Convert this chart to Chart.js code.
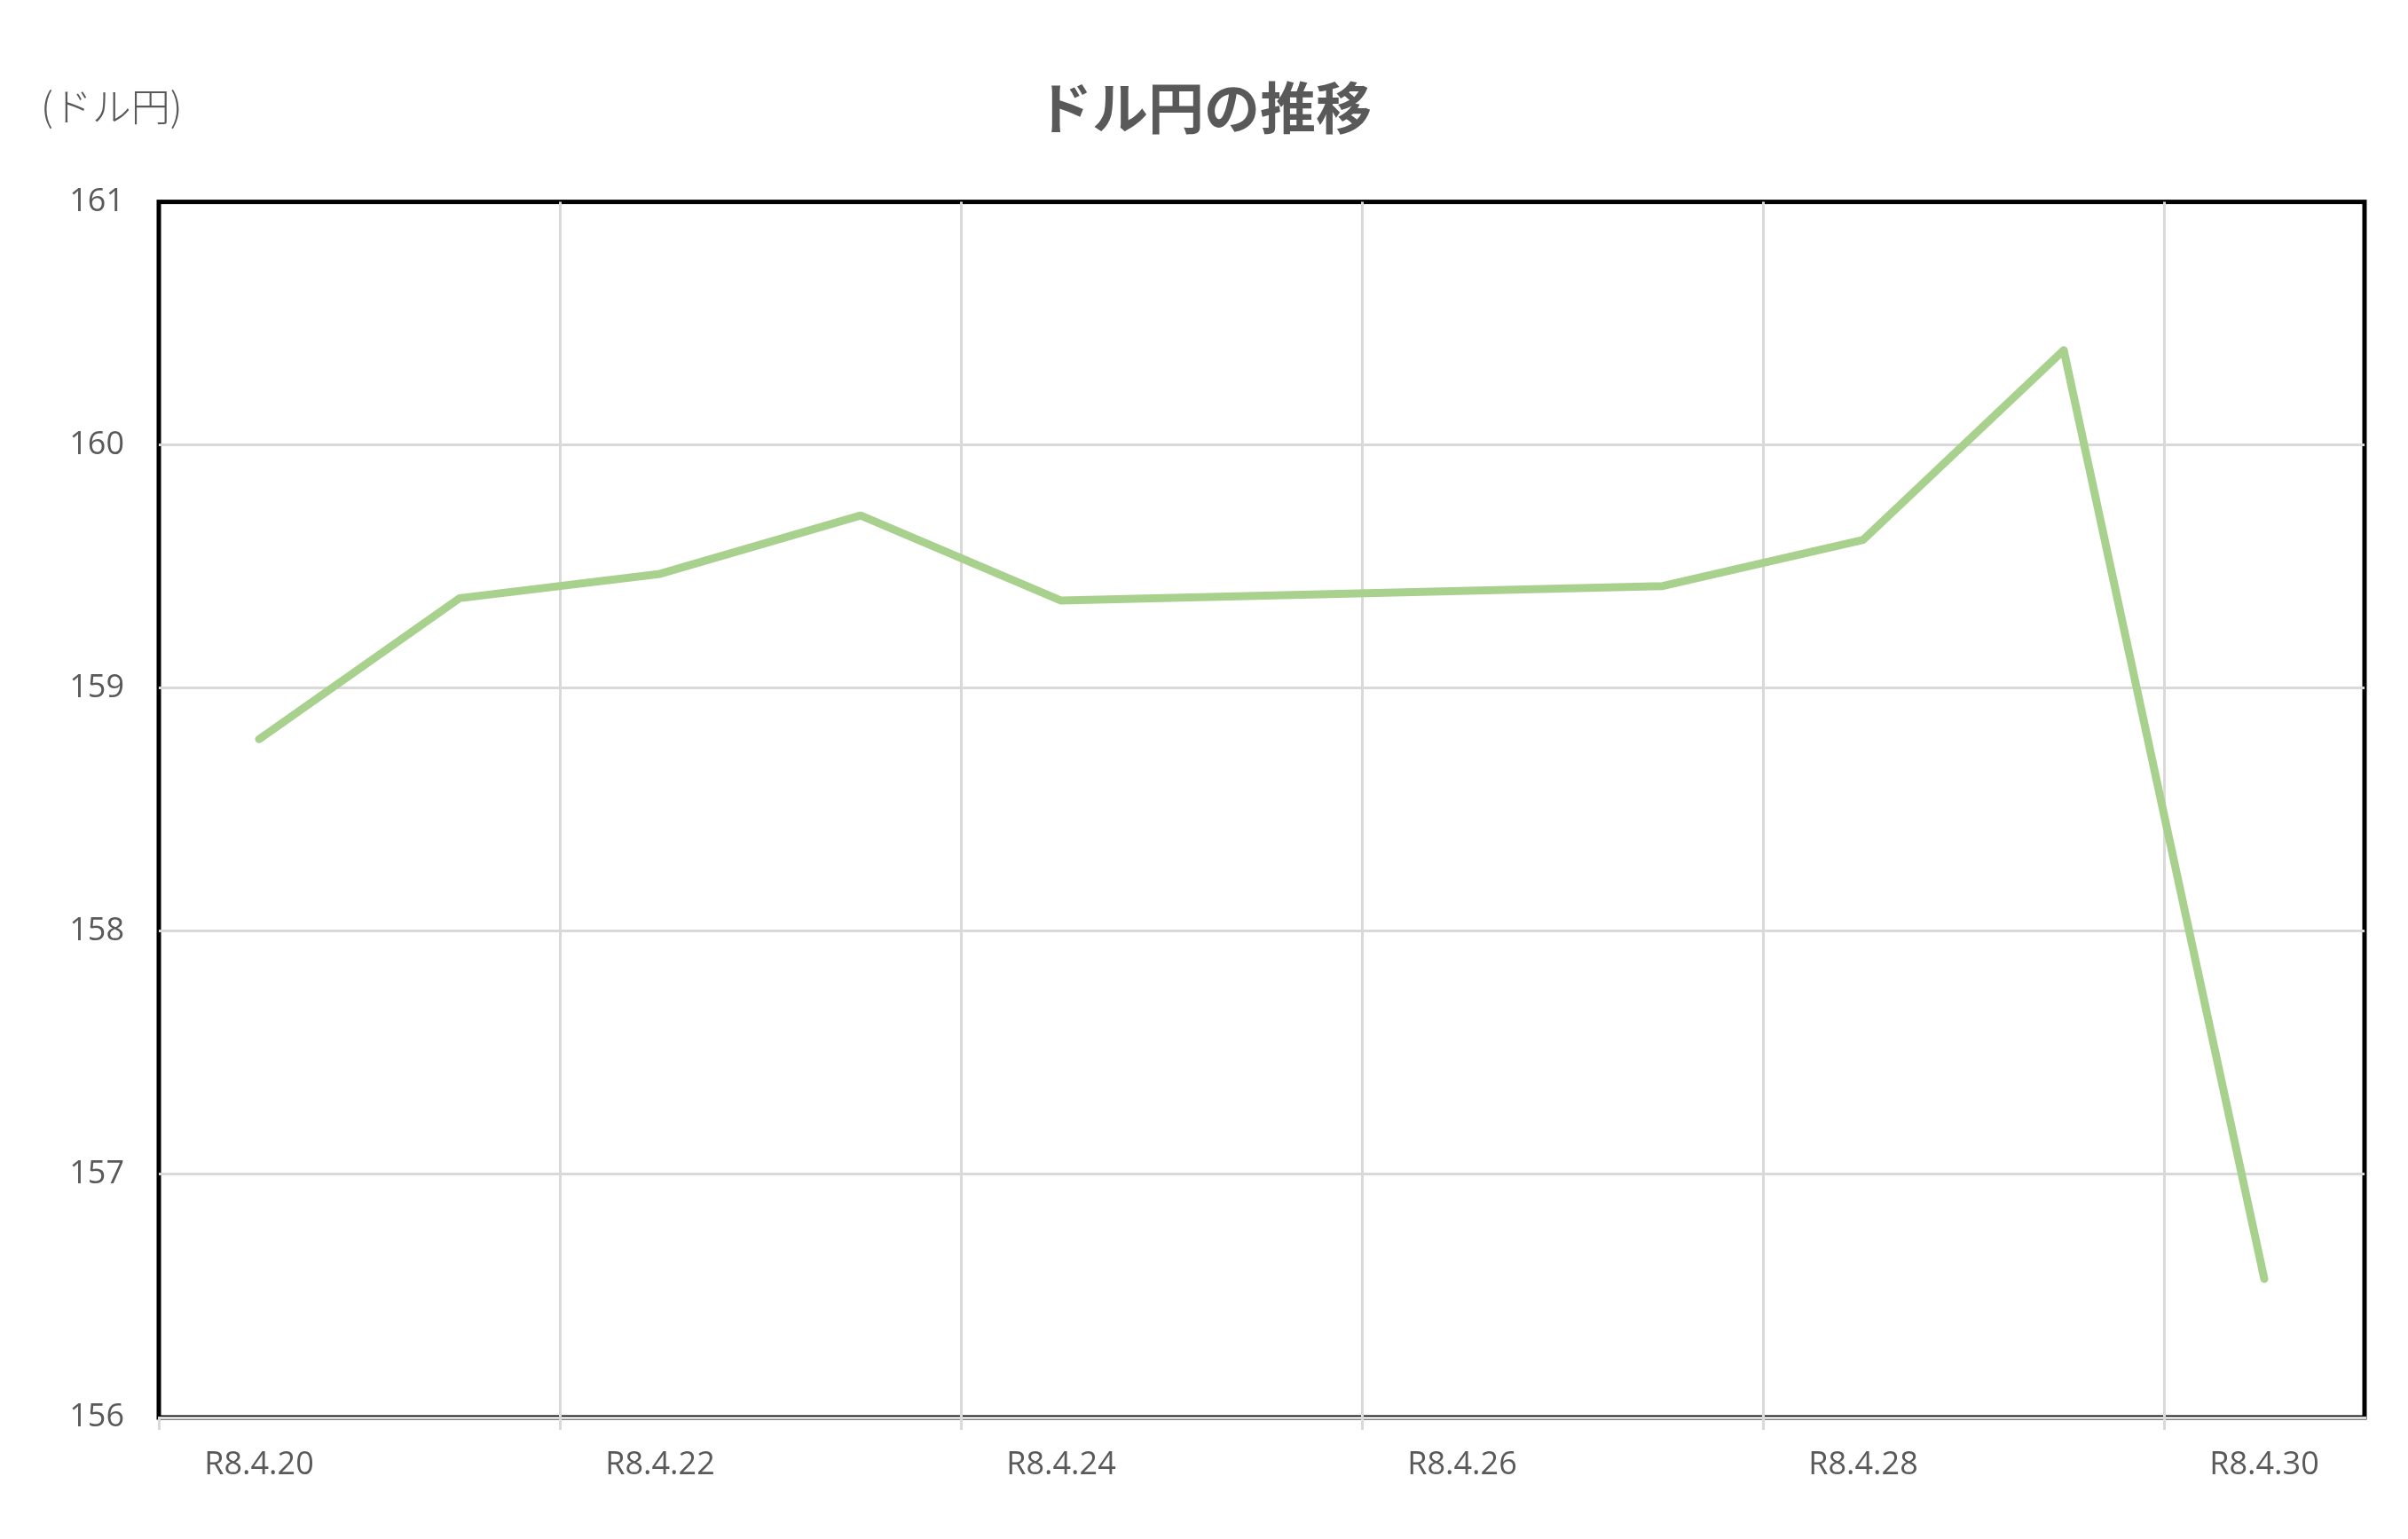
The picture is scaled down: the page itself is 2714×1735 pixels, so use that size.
<!DOCTYPE html>
<html lang="ja">
<head>
	<meta charset="UTF-8">
	<title>ドル円の推移</title>
	<style>
	*{
		margin: 0;
		padding: 0;
		box-sizing: border-box;
	}
	body{
		background: #fff;
	}
	</style>
</head>
<body>
	<canvas id="myChart" width="2714" height="1735"></canvas>

<script src="https://cdn.jsdelivr.net/npm/chart.js"></script>

<script>
// data (day of month, R8.4.xx)
const days = [20, 21, 22, 23, 24, 27, 28, 29, 30];
const rates = [158.79, 159.37, 159.47, 159.71, 159.36, 159.42, 159.61, 160.39, 156.57];

// x axis labels
const tickDays = [20, 22, 24, 26, 28, 30];
const tickLabels = ['R8.4.20', 'R8.4.22', 'R8.4.24', 'R8.4.26', 'R8.4.28', 'R8.4.30'];

// y axis
const yMin = 156;
const yMax = 161;

const textColor = '#595959';
const gridColor = '#D9D9D9';
const tickFont = {family: '"Open Sans", "Noto Sans"', size: 36};

//black frame round the plot area
const frame = {
	id: 'frame',
	beforeDraw(chart){
		const {ctx, chartArea} = chart;
		ctx.save();
		ctx.strokeStyle = '#000';
		ctx.lineWidth = 5;
		ctx.strokeRect(chartArea.left, chartArea.top, chartArea.right - chartArea.left, chartArea.bottom - chartArea.top);
		ctx.restore();
	}
};

//unit text, top left
const unitLabel = {
	id: 'unitLabel',
	afterDraw(chart){
		const ctx = chart.ctx;
		ctx.save();
		ctx.fillStyle = textColor;
		ctx.font = '300 44px "Noto Sans CJK JP"';
		ctx.textAlign = 'left';
		ctx.textBaseline = 'middle';
		ctx.fillText('(ドル円)', 46, 120);
		ctx.restore();
	}
};

const data = {
	datasets: [{
		label: 'ドル円',
		data: days.map((d, i) => ({x: d, y: rates[i]})),
		borderColor: '#A9D18E',
		backgroundColor: '#A9D18E',
		borderWidth: 9,
		pointRadius: 0,
		tension: 0,
		borderCapStyle: 'round',
		borderJoinStyle: 'round'
	}]
};

const config = {
	type: 'line',
	data,
	plugins: [frame, unitLabel],
	options: {
		responsive: false,
		animation: false,
		devicePixelRatio: 1,
		layout: {
			padding: {left: 49, right: 49, top: 0, bottom: 0}
		},
		plugins: {
			legend: {display: false},
			tooltip: {enabled: false},
			title: {
				display: true,
				text: 'ドル円の推移',
				color: textColor,
				font: {family: '"Noto Sans CJK JP"', size: 63, weight: 'bold', lineHeight: 1.2},
				padding: {top: 83, bottom: 69}
			}
		},
		scales: {
			x: {
				type: 'linear',
				min: tickDays[0] - 0.5,
				max: tickDays[tickDays.length - 1] + 0.5,
				afterBuildTicks(scale){
					const t = [];
					tickDays.forEach(d => {
						t.push({value: d - 0.5});
						t.push({value: d});
					});
					scale.ticks = t;
				},
				afterFit(scale){
					scale.height = 137;
				},
				ticks: {
					autoSkip: false,
					maxRotation: 0,
					minRotation: 0,
					padding: 18,
					color: textColor,
					font: tickFont,
					callback(value){
						const i = tickDays.indexOf(value);
						return i >= 0 ? tickLabels[i] : '';
					}
				},
				grid: {
					lineWidth: 3,
					tickLength: 14,
					color(ctx){
						const v = ctx.tick ? ctx.tick.value : 0;
						if(Number.isInteger(v) || v === tickDays[0] - 0.5) return 'rgba(0,0,0,0)';
						return gridColor;
					},
					tickColor(ctx){
						const v = ctx.tick ? ctx.tick.value : 0;
						return Number.isInteger(v) ? 'rgba(0,0,0,0)' : gridColor;
					}
				},
				border: {
					display: true,
					color: gridColor,
					width: 3
				}
			},
			y: {
				min: yMin,
				max: yMax,
				afterFit(scale){
					scale.width = 130;
				},
				ticks: {
					stepSize: 1,
					padding: 39,
					color: textColor,
					font: tickFont
				},
				grid: {
					lineWidth: 3,
					drawTicks: false,
					color(ctx){
						const v = ctx.tick ? ctx.tick.value : 0;
						return (v === yMin || v === yMax) ? 'rgba(0,0,0,0)' : gridColor;
					}
				},
				border: {display: false}
			}
		}
	}
};

const myChart = new Chart(
	document.getElementById('myChart'),
	config
	);
</script>
</body>
</html>
